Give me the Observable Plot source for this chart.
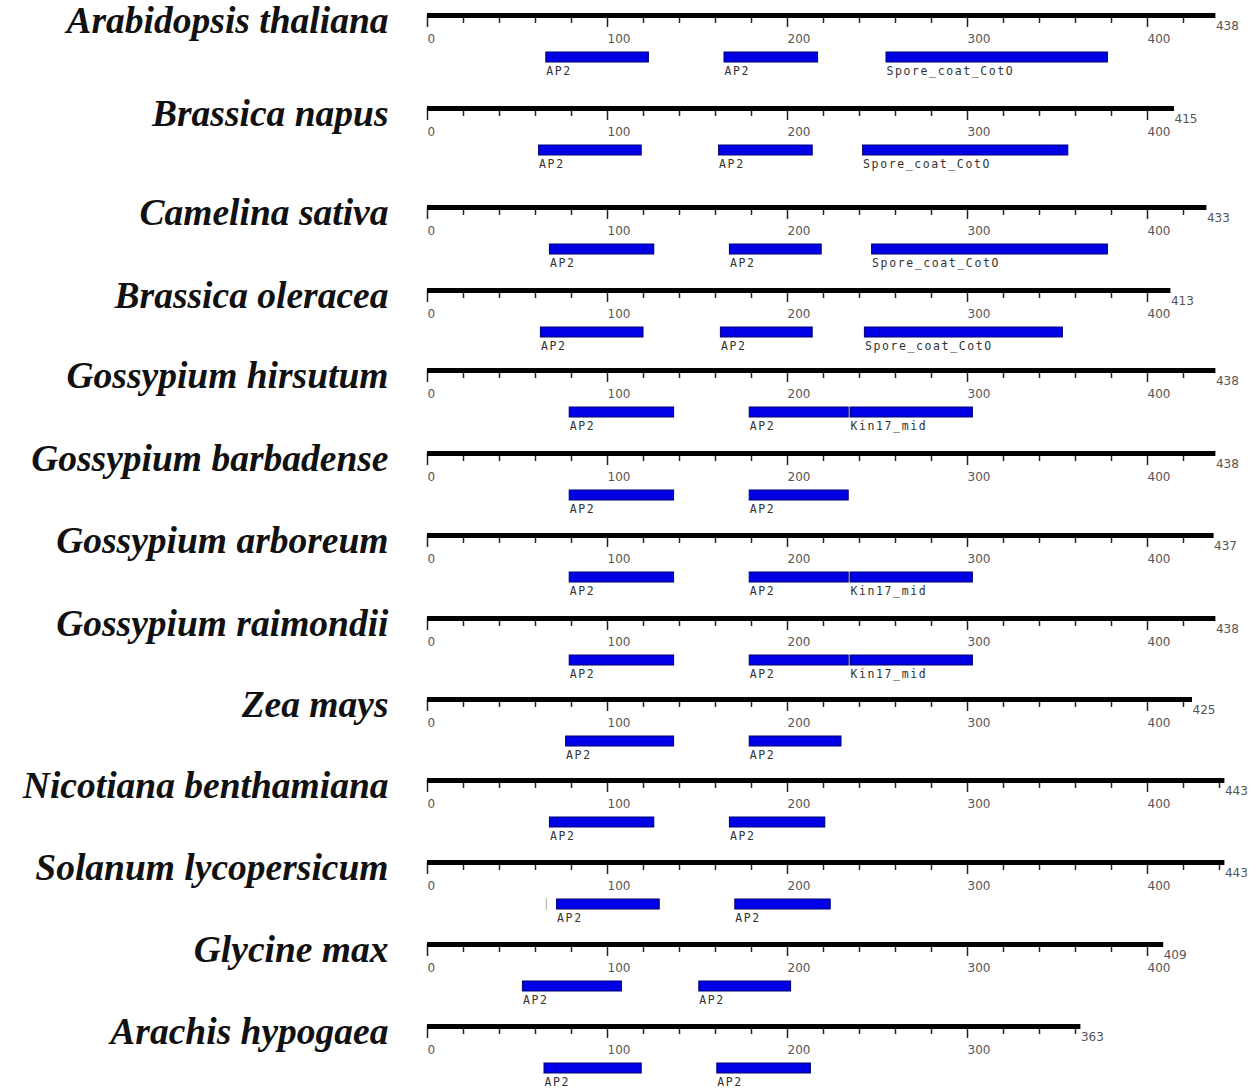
<!DOCTYPE html>
<html>
<head>
<meta charset="utf-8">
<script src="https://cdn.jsdelivr.net/npm/d3@7"></script>
<script src="https://cdn.jsdelivr.net/npm/@observablehq/plot@0.6"></script>
<style>
  html, body { margin: 0; padding: 0; background: #fff; }
  #chart { width: 1260px; }
  #chart svg { display: block; overflow: visible; }
  g[font-family="DejaVu Sans Mono"] text { letter-spacing: 1.6px; }
</style>
</head>
<body>
<div id="chart"></div>
<script>
// ---- data ----
const species = [
  "Arabidopsis thaliana", "Brassica napus", "Camelina sativa", "Brassica oleracea",
  "Gossypium hirsutum", "Gossypium barbadense", "Gossypium arboreum", "Gossypium raimondii",
  "Zea mays", "Nicotiana benthamiana", "Solanum lycopersicum", "Glycine max", "Arachis hypogaea"
];
const lengths = [438, 415, 433, 413, 438, 438, 437, 438, 425, 443, 443, 409, 363];
// first AP2 domain [start, end]
const ap2First = [[66,123],[62,119],[68,126],[63,120],[79,137],[79,137],[79,137],[79,137],[77,137],[68,126],[72,129],[53,108],[65,119]];
// second AP2 domain [start, end]
const ap2Second = [[165,217],[162,214],[168,219],[163,214],[179,234],[179,234],[179,234],[179,234],[179,230],[168,221],[171,224],[151,202],[161,213]];
// third domain [start, end, name] or null
const thirdDomain = [
  [255,378,"Spore_coat_CotO"], [242,356,"Spore_coat_CotO"], [247,378,"Spore_coat_CotO"], [243,353,"Spore_coat_CotO"],
  [235,303,"Kin17_mid"], null, [235,303,"Kin17_mid"], [235,303,"Kin17_mid"],
  null, null, null, null, null
];
// tiny marker seen in Solanum row
const smallMarks = [null,null,null,null,null,null,null,null,null,null,66,null,null];
const minorStep = 20;
const majorStep = 100;

// ---- layout (row heights of the composite figure) ----
const rowHeights = [93, 99, 83, 80, 83, 82, 83, 81, 81, 82, 82, 82, 78];
const LINE = 15;
const L = { tickMinor: 8, tickMajor: 12, tickLabel: 27, endLabel: 14, barTop: 37, barBottom: 47, barLabel: 59, name: 17 };

const container = document.getElementById("chart");

species.forEach((name, i) => {
  const len = lengths[i];
  const H = rowHeights[i];
  const ticks = d3.range(0, len + 1, minorStep);
  const majors = d3.range(0, len + 1, majorStep);
  const domains = [
    {start: ap2First[i][0], end: ap2First[i][1], label: "AP2"},
    {start: ap2Second[i][0], end: ap2Second[i][1], label: "AP2"}
  ];
  if (thirdDomain[i]) domains.push({start: thirdDomain[i][0], end: thirdDomain[i][1], label: thirdDomain[i][2]});
  const marks = smallMarks[i] != null ? [smallMarks[i]] : [];

  const plot = Plot.plot({
    width: 1260,
    height: H,
    marginLeft: 427,
    marginRight: 5,
    marginTop: 0,
    marginBottom: 0,
    x: {domain: [0, 460], axis: null},
    y: {domain: [0, H], range: [0, H], axis: null},
    marks: [
      // species name
      Plot.text([name], {
        frameAnchor: "left", y: LINE + L.name, dx: -39, text: d => d, textAnchor: "end", lineAnchor: "bottom",
        fontFamily: "Liberation Serif", fontWeight: "bold", fontStyle: "italic", fontSize: 37.5, fill: "#111"
      }),
      // minor ticks
      Plot.ruleX(ticks.filter(t => t % majorStep !== 0), {x: d => d, y1: LINE, y2: LINE + L.tickMinor, stroke: "#222", strokeWidth: 1.5}),
      // major ticks
      Plot.ruleX(majors, {x: d => d, y1: LINE, y2: LINE + L.tickMajor, stroke: "#222", strokeWidth: 1.5}),
      // protein backbone
      Plot.ruleY([len], {x1: 0, x2: d => d, y: LINE, stroke: "#000", strokeWidth: 5}),
      // tick labels
      Plot.text(majors, {x: d => d, y: LINE + L.tickLabel, text: d => String(d), textAnchor: "start", dx: 0, lineAnchor: "bottom",
        fontFamily: "DejaVu Sans", fontSize: 12, fill: "#555"}),
      // length label
      Plot.text([len], {x: d => d, y: LINE + L.endLabel, text: d => String(d), textAnchor: "start", dx: 0, lineAnchor: "bottom",
        fontFamily: "DejaVu Sans", fontSize: 12, fill: "#555"}),
      // small marker
      Plot.ruleX(marks, {x: d => d, y1: LINE + L.barTop - 1, y2: LINE + L.barBottom + 1, stroke: "#aaa", strokeWidth: 1}),
      // domains
      Plot.rect(domains, {x1: "start", x2: "end", y1: LINE + L.barTop, y2: LINE + L.barBottom, fill: "#0000e6", stroke: "#000070", strokeWidth: 1}),
      Plot.text(domains, {x: "start", y: LINE + L.barLabel, text: "label", textAnchor: "start", lineAnchor: "bottom",
        fontFamily: "DejaVu Sans Mono", fontSize: 11.5, fill: "#333"})
    ]
  });
  container.appendChild(plot);
});
</script>
</body>
</html>
